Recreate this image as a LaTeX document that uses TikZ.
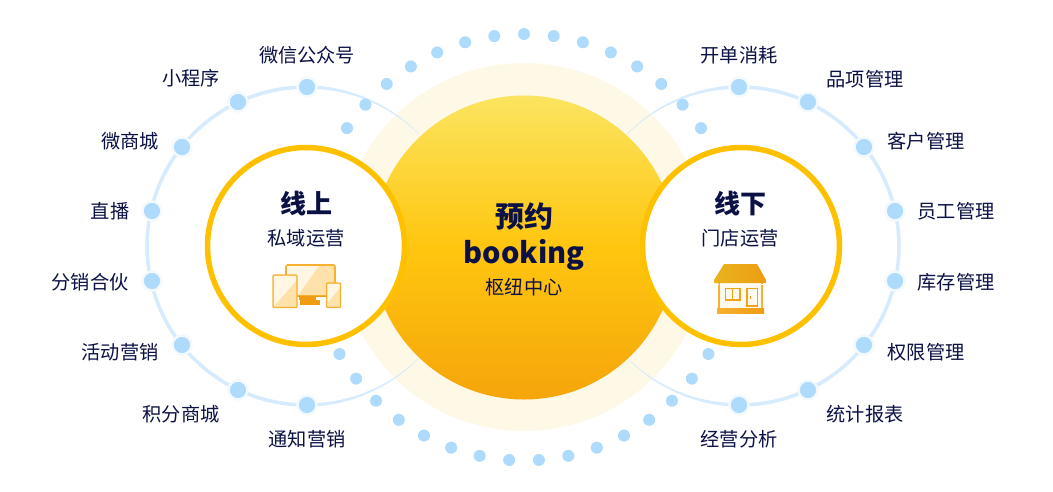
\documentclass[tikz,border=0pt]{standalone}
\usepackage{fontspec}
\setmainfont{Noto Sans CJK SC}
\usepackage{tikz}
\definecolor{inkblue}{HTML}{0B1145}
\definecolor{dotblue}{HTML}{AEDBFC}
\definecolor{halo}{HTML}{F4F9FE}
\definecolor{ringblue}{HTML}{D6EBFD}
\definecolor{palegold}{HTML}{FEF8E6}
\definecolor{rimgold}{HTML}{FFC000}
\definecolor{hubtop}{HTML}{FBE460}
\definecolor{hubmid}{HTML}{FFC60F}
\definecolor{hubbottom}{HTML}{F5A50B}
\definecolor{roofleft}{HTML}{E8B41E}
\definecolor{iconline}{HTML}{F7B030}
\definecolor{iconfill}{HTML}{FEE2A9}
\definecolor{iconlight}{HTML}{FFF6E3}
\definecolor{icondark}{HTML}{F09C12}

\begin{document}
\begin{tikzpicture}[x=1pt,y=-1pt]
\tikzset{bigdot/.style={circle,fill=dotblue,draw=halo,line width=2.5pt,minimum size=19pt,inner sep=0pt}}
\tikzset{smalldot/.style={circle,fill=dotblue,minimum size=12pt,inner sep=0pt}}
\tikzset{tag/.style={text=inkblue,font=\fontsize{19.2}{19}\selectfont,inner sep=0pt}}
\tikzset{titletag/.style={text=inkblue,font=\fontsize{#1}{#1}\selectfont\bfseries,inner sep=0pt}}
\tikzset{sidecircle/.style={circle,draw=rimgold,line width=5.5pt,fill=white,minimum size=197pt,inner sep=0pt}}

\useasboundingbox (0,0) rectangle (1053,491);
\fill[white] (0,0) rectangle (1053,491);

\node[circle,fill=palegold,minimum size=368pt,inner sep=0pt] (halo) at (524,247) {};

% thin tails of the two rings
\coordinate (lc) at (306,246);
\coordinate (rc) at (740,246);
\foreach \a in {-90,-87,...,-48}{
	\pgfmathsetmacro\w{0.3+3.2*(-45-\a)/45}
	\draw[ringblue,line width=\w pt,line cap=round] ([shift={(\a:159)}]lc) -- ([shift={(\a+3:159)}]lc);
	\draw[ringblue,line width=\w pt,line cap=round] ([shift={(-\a:159)}]lc) -- ([shift={(-\a-3:159)}]lc);
	\draw[ringblue,line width=\w pt,line cap=round] ([shift={(180-\a:159)}]rc) -- ([shift={(177-\a:159)}]rc);
	\draw[ringblue,line width=\w pt,line cap=round] ([shift={(180+\a:159)}]rc) -- ([shift={(183+\a:159)}]rc);
}
\foreach \a in {90,93,...,267}{
	\draw[ringblue,line width=3.5pt,line cap=round] ([shift={(\a:159)}]lc) -- ([shift={(\a+3:159)}]lc);
	\draw[ringblue,line width=3.5pt,line cap=round] ([shift={(\a+180:159)}]rc) -- ([shift={(\a+183:159)}]rc);
}

\node[circle,minimum size=304pt,inner sep=0pt,top color=hubtop,bottom color=hubbottom,middle color=hubmid] (hub) at (524,247.5) {};

% dots round the hub
\foreach \a in {-146,-138,...,-34}
	\node[smalldot] (up\a) at ([shift={(\a:213.5)}]hub) {};
\foreach \a in {30,38,...,150}
	\node[smalldot] (low\a) at ([shift={(\a:213)}]hub) {};

\node[sidecircle] (online) at (306,246) {};
\node[sidecircle] (offline) at (741,246) {};

\foreach \n/\x/\y/\tx/\ty/\t in {
	a/307/87/307/55/微信公众号,
	b/238/102/191/78/小程序,
	c/182/147/130/141/微商城,
	d/152/211/110/211/直播,
	e/152/281/90/282/分销合伙,
	f/182/345/120/352/活动营销,
	g/238/390/181/414/积分商城,
	h/307/405/307/439/通知营销,
	i/739/87/739/55/开单消耗,
	j/808/102/865/79/品项管理,
	k/864/147/926/141/客户管理,
	l/895/211/956/211/员工管理,
	m/895/281/956/282/库存管理,
	n/864/345/926/352/权限管理,
	o/808/390/865/414/统计报表,
	p/739/405/739/439/经营分析}{
	\node[bigdot] (dot\n) at (\x,\y) {};
	\node[tag] (tag\n) at (\tx,\ty) {\t};
}

\node[titletag=29] (hubtitle) at (524,217) {预约};
\node[titletag=29] (hubname) at (524,255) {booking};
\node[tag] (hubsub) at (524,287) {枢纽中心};

\node[titletag=26] (ontitle) at (306,204) {线上};
\node[tag] (onsub) at (306,238) {私域运营};
\node[titletag=26] (offtitle) at (740,204) {线下};
\node[tag] (offsub) at (740,238) {门店运营};

% screen icon
\fill[icondark] (299,296) rectangle (316,300);
\fill[icondark] (300,300) rectangle (320,305);
\draw[iconline,line width=1.6pt,fill=iconfill,rounded corners=1.5pt] (286,265) rectangle (335,296);
\fill[iconlight] (287,266) -- (319,266) -- (298,295) -- (287,295) -- cycle;
\draw[icondark,line width=1.2pt] (286,296.5) -- (335,296.5);
\draw[iconline,line width=1.2pt,fill=iconfill,rounded corners=1pt] (273,275) rectangle (297,307.5);
\fill[iconlight] (274,276) -- (296,276) -- (296,281) -- (274,306) -- cycle;
\draw[iconline,line width=1.2pt,fill=iconfill,rounded corners=1pt] (326.5,283) rectangle (340.5,307.5);
\fill[iconlight] (327.5,284) -- (339.5,284) -- (339.5,288) -- (327.5,303) -- cycle;

% shop icon
\fill[iconlight!60!white] (719,283) rectangle (762,308);
\draw[iconline,line width=1.2pt] (719,283) -- (719,308) (762,283) -- (762,308);
\shade[left color=roofleft,right color=icondark] (724,264) -- (757,264) -- (766,280) -- (766,283) -- (714,283) -- (714,280) -- cycle;
\draw[white,line width=1pt,dash pattern=on 2pt off 2pt] (717,284) -- (764,284);
\draw[icondark!70!iconline,line width=1.2pt] (725.5,288.5) rectangle (740,300);
\draw[icondark!70!iconline,line width=1pt] (732.7,288.5) -- (732.7,300);
\draw[icondark!70!iconline,line width=1.2pt] (747,288.5) rectangle (757.5,306);
\fill[icondark] (749.5,296) rectangle (750.5,299);
\shade[left color=iconline,right color=icondark] (717,308) rectangle (764,313);
\end{tikzpicture}
\end{document}
